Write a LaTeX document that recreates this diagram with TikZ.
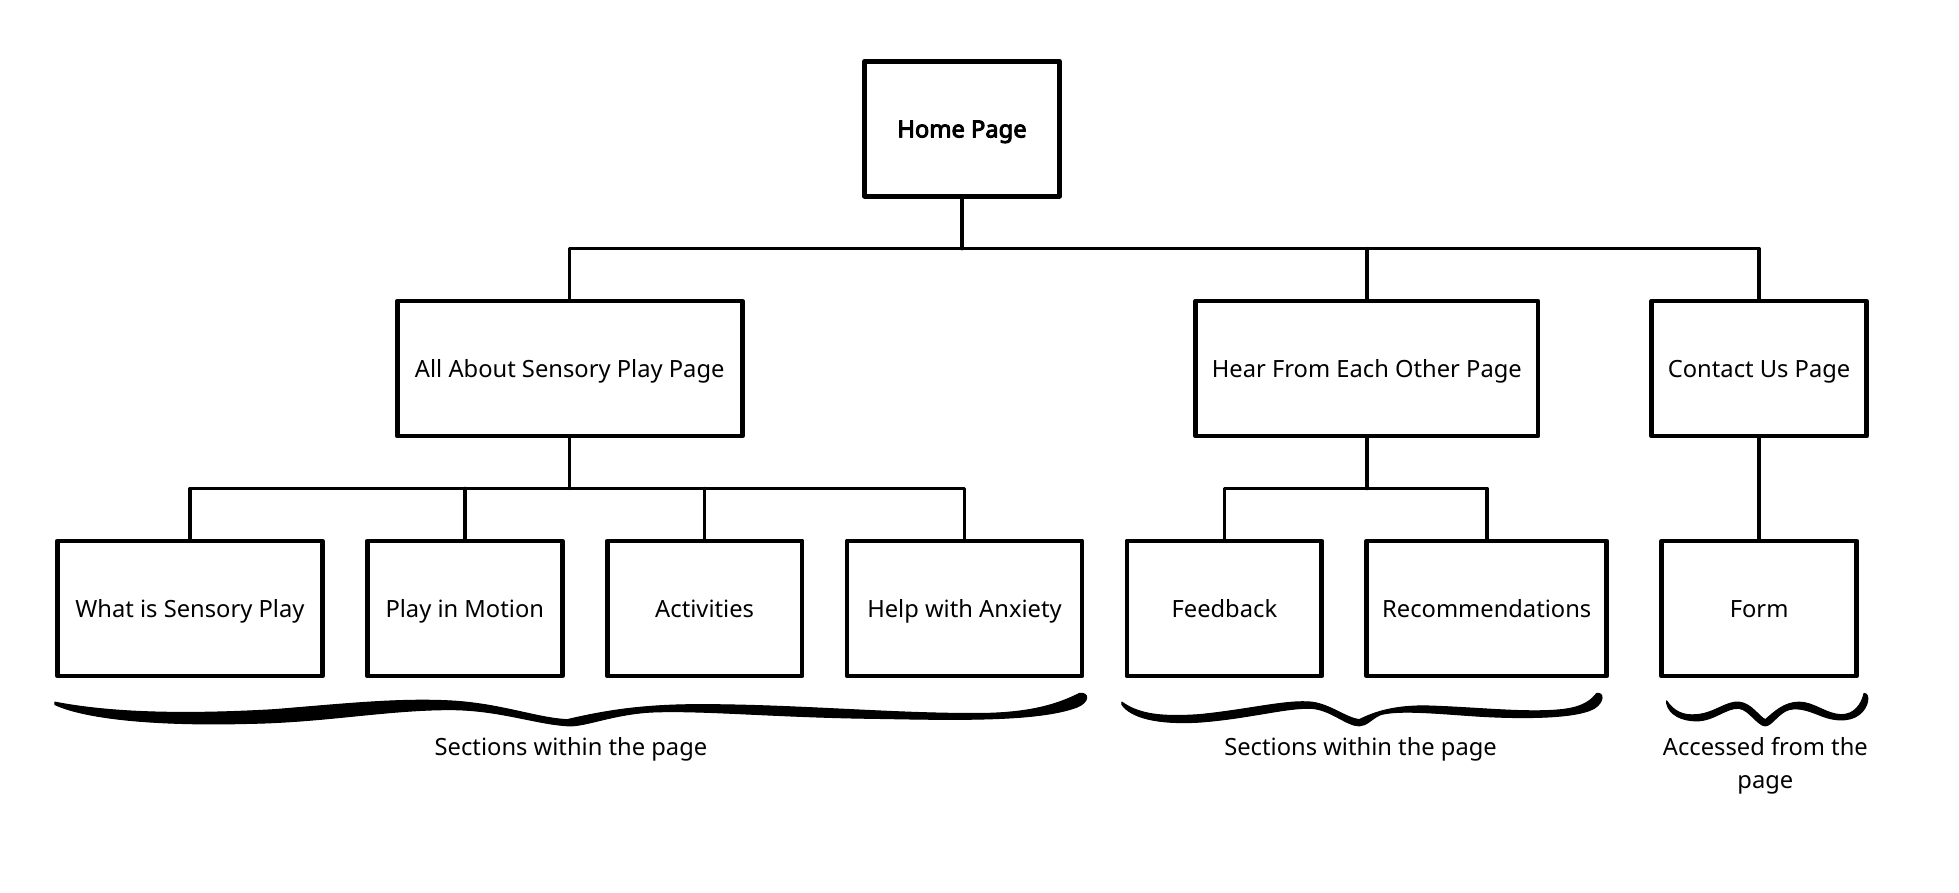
\documentclass[tikz,border=0pt]{standalone}
\usepackage{fontspec}
\setmainfont{Noto Sans}
\newfontfamily\homebold{Noto Sans}[FakeBold=4]
\usetikzlibrary{positioning}

\begin{document}
\begin{tikzpicture}[x=0.025cm,y=-0.025cm,line cap=round,line join=round,
	page/.style={draw,line width=2.7pt,fill=white,inner sep=0pt,minimum height=2.7cm,text height=0.45cm,text depth=0.1cm,font=\fontsize{13.5}{16}\selectfont},
	link/.style={line width=2pt},
	brace/.style={fill=black,draw=black,line width=0.6pt},
	lbl/.style={align=center,font=\fontsize{13.5}{18.5}\selectfont}]
	\useasboundingbox (0,0) rectangle (1568,714);
	\node[page,minimum width=3.9cm] (home) at (770,103) {\homebold Home Page};
	\node[page,minimum width=6.9cm] (about) at (456,295) {All About Sensory Play Page};
	\node[page,minimum width=6.85cm] (heo) at (1094,295) {Hear From Each Other Page};
	\node[page,minimum width=4.3cm] (contact) at (1408,295) {Contact Us Page};
	\node[page,minimum width=5.3cm] (whatis) at (152,487) {What is Sensory Play};
	\node[page,minimum width=3.9cm] (motion) at (372,487) {Play in Motion};
	\node[page,minimum width=3.9cm] (activities) at (564,487) {Activities};
	\node[page,minimum width=4.7cm] (anxiety) at (772,487) {Help with Anxiety};
	\node[page,minimum width=3.9cm] (feedback) at (980,487) {Feedback};
	\node[page,minimum width=4.8cm] (recomm) at (1190,487) {Recommendations};
	\node[page,minimum width=3.9cm] (form) at (1408,487) {Form};
	\coordinate (top) at (770,199);
	\coordinate (mid1) at (456,391);
	\coordinate (mid2) at (1094,391);
	\draw[link] (home) -- (top);
	\draw[link] (about) |- (top) -| (contact);
	\draw[link] (heo) -- (heo |- top);
	\draw[link] (about) -- (mid1);
	\draw[link] (whatis) |- (mid1) -| (anxiety);
	\draw[link] (motion) -- (motion |- mid1);
	\draw[link] (activities) -- (activities |- mid1);
	\draw[link] (heo) -- (mid2);
	\draw[link] (feedback) |- (mid2) -| (recomm);
	\draw[link] (contact) -- (form);
	\draw[brace] (44,562) .. controls (90,571) and (150,572) .. (220,568) .. controls (280,563) and (320,559) .. (360,561) .. controls (400,563) and (430,575) .. (454,576) .. controls (480,570) and (510,564) .. (560,564) .. controls (640,564) and (720,572) .. (790,571) .. controls (830,570) and (850,562) .. (864,555) .. controls (872,554) and (872,562) .. (862,566) .. controls (830,578) and (760,576) .. (700,575) .. controls (620,574) and (560,568) .. (520,570) .. controls (490,572) and (470,581) .. (456,581) .. controls (430,580) and (400,568) .. (360,568) .. controls (310,568) and (260,578) .. (200,579) .. controls (130,581) and (70,576) .. (44,564) -- cycle;
	\draw[brace] (898,562) .. controls (912,572) and (930,574) .. (960,572) .. controls (1000,568) and (1030,560) .. (1050,562) .. controls (1065,564) and (1078,575) .. (1088,576) .. controls (1100,570) and (1115,565) .. (1140,565) .. controls (1180,566) and (1220,571) .. (1250,568) .. controls (1268,566) and (1274,560) .. (1278,555) .. controls (1284,554) and (1284,562) .. (1276,567) .. controls (1260,576) and (1210,575) .. (1180,573) .. controls (1150,571) and (1120,568) .. (1105,572) .. controls (1098,575) and (1094,581) .. (1088,581) .. controls (1078,581) and (1065,568) .. (1050,567) .. controls (1030,566) and (1000,575) .. (960,578) .. controls (925,580) and (905,574) .. (898,564) -- cycle;
	\draw[brace] (1334,561) .. controls (1340,570) and (1348,573) .. (1358,572) .. controls (1372,571) and (1382,561) .. (1392,562) .. controls (1402,563) and (1408,574) .. (1413,576) .. controls (1420,570) and (1428,562) .. (1440,562) .. controls (1452,562) and (1462,572) .. (1474,572) .. controls (1484,572) and (1490,564) .. (1492,555) .. controls (1497,555) and (1496,566) .. (1488,572) .. controls (1480,578) and (1468,577) .. (1458,573) .. controls (1448,569) and (1440,566) .. (1432,568) .. controls (1424,570) and (1418,581) .. (1413,581) .. controls (1407,581) and (1400,568) .. (1392,567) .. controls (1382,566) and (1372,577) .. (1358,577) .. controls (1346,577) and (1336,572) .. (1334,563) -- cycle;
	\node[lbl] (sec1) at (457,600) {Sections within the page};
	\node[lbl] (sec2) at (1089,600) {Sections within the page};
	\node[lbl] (acc) at (1413,613) {Accessed from the\\page};
\end{tikzpicture}
\end{document}
